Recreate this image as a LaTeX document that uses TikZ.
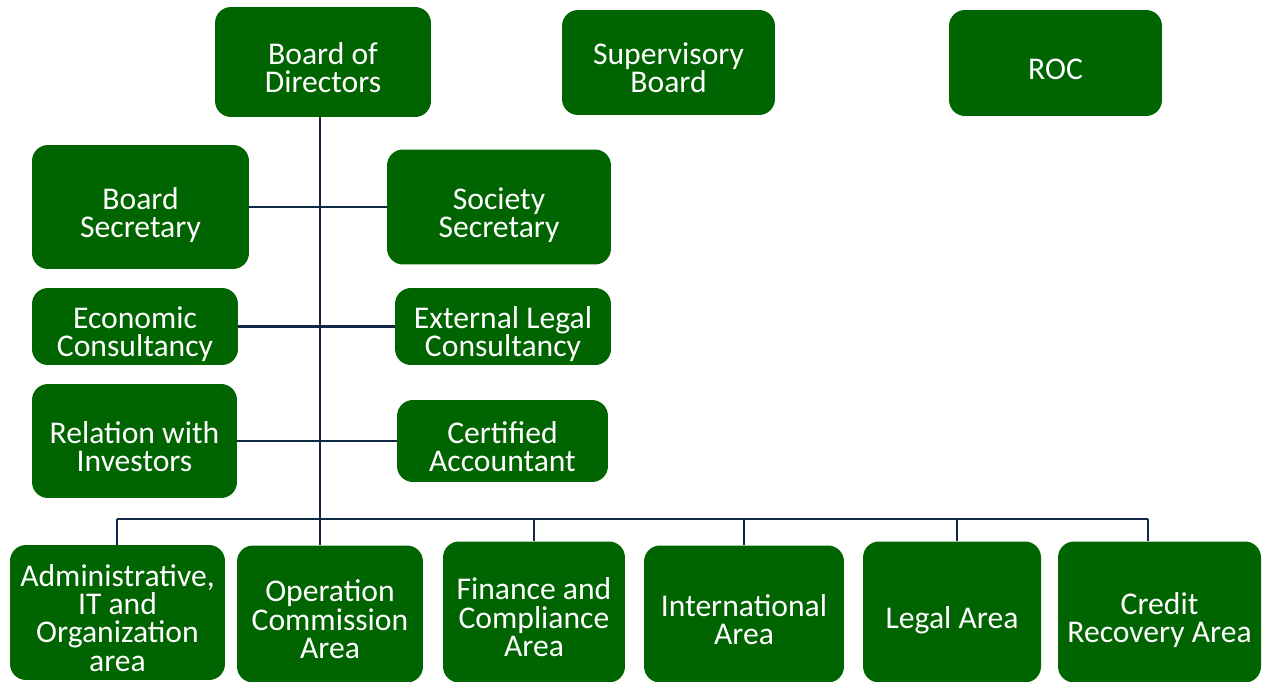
\documentclass[tikz,border=0pt]{standalone}
\usepackage{fontspec}
\setmainfont{Carlito}
\usetikzlibrary{positioning}
\definecolor{boxgreen}{HTML}{006400}
\definecolor{linenavy}{HTML}{11284A}
\tikzset{
  unit/.style={rectangle, rounded corners=0.32cm, fill=boxgreen, text=white, align=center, inner sep=0,
    font=\fontsize{18}{16.2}\selectfont,
    execute at begin node={\lineskiplimit=-20pt\relax\spaceskip=\fontdimen2\font\relax\rule{0pt}{23pt}},
    execute at end node={\rule[-4.5pt]{0pt}{4.5pt}}},
  link/.style={draw=linenavy, line width=1.6pt}
}

\begin{document}
\begin{tikzpicture}[x=0.02cm, y=-0.02cm]
      \useasboundingbox (0,0) rectangle (1263,682);

      % top row
      \node[unit, text width=4.32cm, minimum height=2.2cm](bod) at (323,62){Board of\\Directors};
      \node[unit, text width=4.26cm, minimum height=2.1cm](sup) at (668.5,62.5){Supervisory\\Board};
      \node[unit, text width=4.26cm, minimum height=2.12cm](roc) at (1055.5,63){ROC};

      % staff units
      \node[unit, text width=4.34cm, minimum height=2.48cm](bsec) at (140.5,207){Board\\Secretary};
      \node[unit, text width=4.48cm, minimum height=2.3cm](ssec) at (499,207){Society\\Secretary};
      \node[unit, text width=4.12cm, minimum height=1.54cm](eco) at (135,326.5){Economic\\Consultancy};
      \node[unit, text width=4.32cm, minimum height=1.54cm](ext) at (503,326.5){External Legal\\Consultancy};
      \node[unit, text width=4.1cm, minimum height=2.28cm](rel) at (134.5,441){Relation with\\Investors};
      \node[unit, text width=4.22cm, minimum height=1.64cm](cert) at (502.5,441){Certified\\Accountant};

      % areas
      \node[unit, text width=4.3cm, minimum height=2.7cm](adm) at (117.5,612.5){Administrative,\\IT and\\Organization\\area};
      \node[unit, text width=3.72cm, minimum height=2.74cm](opa) at (330,614){Operation\\Commission\\Area};
      \node[unit, text width=3.64cm, minimum height=2.82cm](fin) at (534,612){Finance and\\Compliance\\Area};
      \node[unit, text width=4cm, minimum height=2.74cm](intl) at (744,614){International\\Area};
      \node[unit, text width=3.56cm, minimum height=2.82cm](leg) at (952,612){Legal Area};
      \node[unit, text width=4.06cm, minimum height=2.82cm](cred) at (1159.5,612){Credit\\Recovery Area};

      \coordinate (busL) at (117,519);
      \coordinate (busR) at (1148,519);

      \draw[link]([xshift=-0.06cm]bod.south) -- ([xshift=-0.06cm]bod.south |- opa.north);
      \draw[link](bsec.east) -- (ssec.west);
      \draw[link](eco.east) -- (ext.west);
      \draw[link](rel.east) -- (cert.west);
      \draw[link](busL) -- (busR);
      \draw[link](busL) -- (busL |- adm.north);
      \draw[link](busR) -- (busR |- cred.north);
      \draw[link](fin.north) -- (fin.north |- busL);
      \draw[link](intl.north) -- (intl.north |- busL);
      \draw[link]([xshift=0.1cm]leg.north) -- ([xshift=0.1cm]leg.north |- busL);
    \end{tikzpicture}
\end{document}
